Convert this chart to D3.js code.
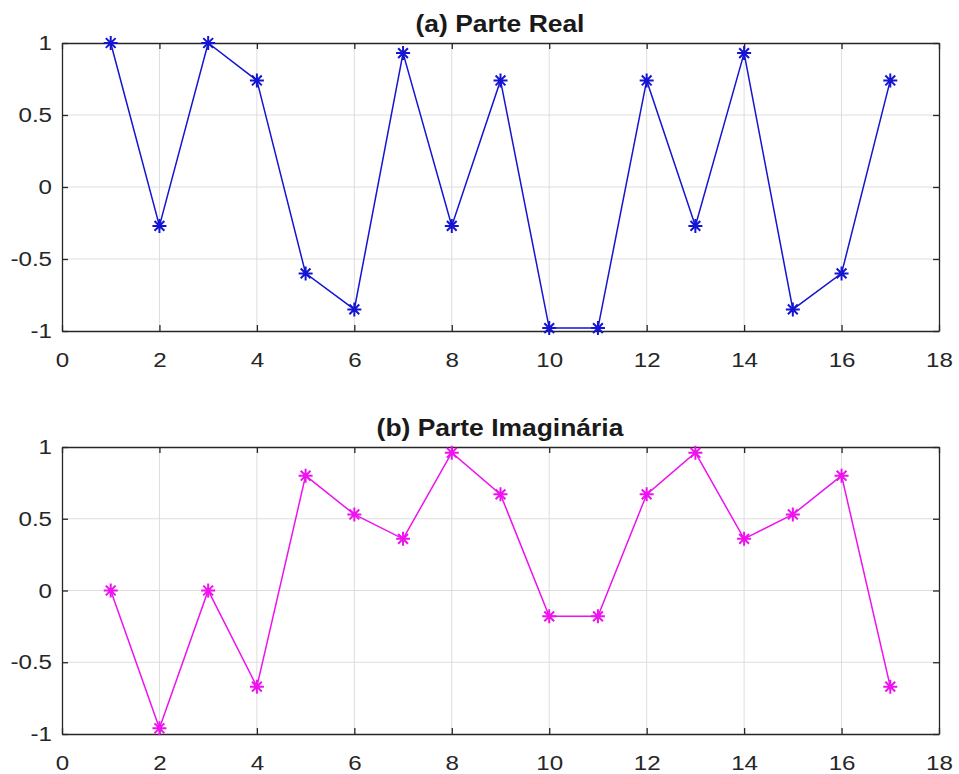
<!DOCTYPE html>
<html>
<head>
<meta charset="utf-8">
<script src="https://cdn.jsdelivr.net/npm/d3@7"></script>
<style>
  html, body { margin: 0; padding: 0; background: #fff; }
  svg { display: block; }
  .tick text { font-family: Arial, "Liberation Sans", sans-serif; fill: #262626; }
</style>
</head>
<body>
<svg id="chart" width="959" height="774"></svg>
<script>
// sample index n
const samples = [1, 2, 3, 4, 5, 6, 7, 8, 9, 10, 11, 12, 13, 14, 15, 16, 17];
// real part of each sample
const realPart = [1, -0.27, 1, 0.74, -0.6, -0.85, 0.93, -0.27, 0.74, -0.98, -0.98, 0.74, -0.27, 0.93, -0.85, -0.6, 0.74];
// imaginary part of each sample
const imagPart = [0, -0.96, 0, -0.67, 0.8, 0.53, 0.36, 0.96, 0.67, -0.18, -0.18, 0.67, 0.96, 0.36, 0.53, 0.8, -0.67];
const xTicks = [0, 2, 4, 6, 8, 10, 12, 14, 16, 18];
const yTicks = [-1, -0.5, 0, 0.5, 1];
const yTickLabels = ["-1", "-0.5", "0", "0.5", "1"];

const svg = d3.select("#chart");
const left = 62, right = 939;
const stretch = 1.15;   // text is drawn slightly wide

const panels = [
  { title: "(a) Parte Real", values: realPart, color: "#1414d2", top: 43, bottom: 331 },
  { title: "(b) Parte Imaginária", values: imagPart, color: "#ee12ee", top: 447, bottom: 734 }
];

const x = d3.scaleLinear().domain([0, 18]).range([left, right]);

panels.forEach(p => {
  const y = d3.scaleLinear().domain([-1, 1]).range([p.bottom, p.top]);
  const g = svg.append("g");

  // grid
  g.append("g").selectAll("line.gx").data(xTicks.slice(1, -1)).join("line")
    .attr("x1", d => x(d)).attr("x2", d => x(d))
    .attr("y1", p.top).attr("y2", p.bottom)
    .attr("stroke", "#dedede").attr("stroke-width", 1);
  g.append("g").selectAll("line.gy").data(yTicks.slice(1, -1)).join("line")
    .attr("x1", left).attr("x2", right)
    .attr("y1", d => y(d)).attr("y2", d => y(d))
    .attr("stroke", "#dedede").attr("stroke-width", 1);

  const fmtY = d => yTickLabels[yTicks.indexOf(d)];

  // axes (ticks point inward, box on all sides)
  const bottomAxis = d3.axisBottom(x).tickValues(xTicks).tickSizeInner(-6).tickSizeOuter(0).tickPadding(21).tickFormat(d3.format("d"));
  const topAxis = d3.axisTop(x).tickValues(xTicks).tickSizeInner(-6).tickSizeOuter(0).tickFormat("");
  const leftAxis = d3.axisLeft(y).tickValues(yTicks).tickSizeInner(-6).tickSizeOuter(0).tickPadding(10).tickFormat(fmtY);
  const rightAxis = d3.axisRight(y).tickValues(yTicks).tickSizeInner(-6).tickSizeOuter(0).tickFormat("");

  [
    g.append("g").attr("transform", `translate(0,${p.bottom})`).call(bottomAxis),
    g.append("g").attr("transform", `translate(0,${p.top})`).call(topAxis),
    g.append("g").attr("transform", `translate(${left},0)`).call(leftAxis),
    g.append("g").attr("transform", `translate(${right},0)`).call(rightAxis)
  ].forEach(a => {
    a.select(".domain").attr("stroke", "#262626").attr("stroke-width", 1.3);
    a.selectAll(".tick line").attr("stroke", "#262626").attr("stroke-width", 1.3);
    a.selectAll(".tick text")
      .attr("font-size", 21).attr("fill", "#262626")
      .attr("x", function() { return (+this.getAttribute("x") || 0) / stretch; })
      .attr("transform", `scale(${stretch},1)`);
  });

  // title
  const cx = (left + right) / 2 - 0.5;
  svg.append("text")
    .attr("x", cx / stretch).attr("y", p.top - 11)
    .attr("transform", `scale(${stretch},1)`)
    .attr("text-anchor", "middle")
    .attr("font-family", "Arial, 'Liberation Sans', sans-serif")
    .attr("font-weight", "bold").attr("font-size", 23)
    .attr("fill", "#1a1a1a")
    .text(p.title);

  const pts = samples.map((n, i) => [n, p.values[i]]);
  const line = d3.line().x(d => x(d[0])).y(d => y(d[1]));
  g.append("path").datum(pts)
    .attr("d", line).attr("fill", "none")
    .attr("stroke", p.color).attr("stroke-width", 1.5);

  // asterisk markers
  const r = 7;
  const star = `M${-r},0L${r},0M0,${-r}L0,${r}M${-r*0.7},${-r*0.7}L${r*0.7},${r*0.7}M${-r*0.7},${r*0.7}L${r*0.7},${-r*0.7}`;
  g.append("g").selectAll("path").data(pts).join("path")
    .attr("transform", d => `translate(${x(d[0])},${y(d[1])})`)
    .attr("d", star).attr("fill", "none")
    .attr("stroke", p.color).attr("stroke-width", 2);
});
</script>
</body>
</html>
